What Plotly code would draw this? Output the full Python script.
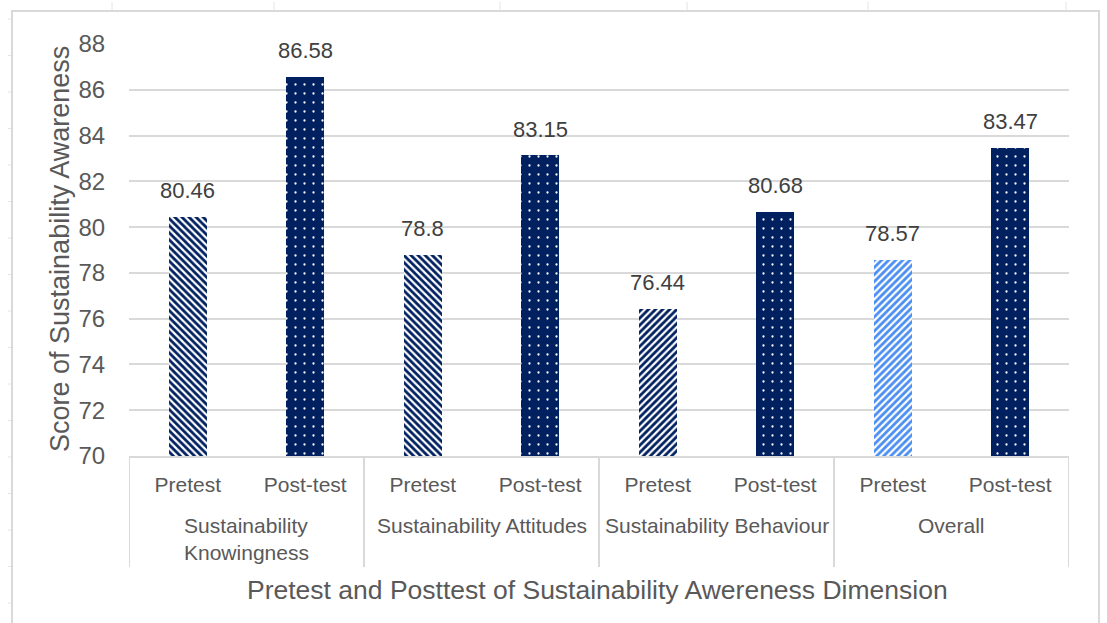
import plotly.graph_objects as go

# Sustainability awareness scores by dimension, before and after the course
groups = ["Sustainability<br>Knowingness", "Sustainability Attitudes",
          "Sustainability Behaviour", "Overall"]
phases = ["Pretest", "Post-test"]
pretest = [80.46, 78.8, 76.44, 78.57]
posttest = [86.58, 83.15, 80.68, 83.47]

NAVY = "#002060"
LIGHT_BLUE = "#4A8EF2"
GRID = "#d9d9d9"
FONT = "Liberation Sans, Arial, sans-serif"

# Interleave pretest / post-test values along a numeric axis
scores, labels = [], []
for pre, post in zip(pretest, posttest):
    scores += [pre, post]
    labels += phases
xs = list(range(len(scores)))

# Hatch style of each pretest bar; post-test bars are dotted navy
pre_shapes = ["\\", "\\", "/", "/"]
pre_colors = [NAVY, NAVY, NAVY, LIGHT_BLUE]

fig = go.Figure()
for i in range(len(groups)):
    fig.add_trace(go.Bar(
        x=[xs[2 * i]], y=[scores[2 * i]], width=0.32,
        marker=dict(color="white", line=dict(width=0),
                    pattern=dict(shape=pre_shapes[i], fgcolor=pre_colors[i],
                                 bgcolor="white", size=5, solidity=0.55,
                                 fillmode="replace")),
        showlegend=False, hoverinfo="y",
    ))
    fig.add_trace(go.Bar(
        x=[xs[2 * i + 1]], y=[scores[2 * i + 1]], width=0.32,
        marker=dict(color=NAVY, line=dict(width=0),
                    pattern=dict(shape=".", fgcolor="white", bgcolor=NAVY,
                                 size=9, solidity=0.05, fillmode="replace")),
        showlegend=False, hoverinfo="y",
    ))

# Value labels above each bar
for x, v in zip(xs, scores):
    fig.add_annotation(x=x, y=v, text=f"{v:g}", showarrow=False,
                       yanchor="middle", yshift=26,
                       font=dict(size=22, color="#404040", family=FONT))

PLOT_TOP, PLOT_BOTTOM, PLOT_LEFT, PLOT_RIGHT = 44, 456, 129, 1069
PLOT_H = PLOT_BOTTOM - PLOT_TOP
PLOT_W = PLOT_RIGHT - PLOT_LEFT


def py(px):
    return (PLOT_BOTTOM - px) / PLOT_H


def pxx(px):
    return (px - PLOT_LEFT) / PLOT_W


# Group names under the phase labels
for i, g in enumerate(groups):
    fig.add_annotation(x=2 * i + 0.5, xref="x", y=py(512), yref="paper",
                       text=g, showarrow=False, xanchor="center", yanchor="top",
                       align="left",
                       font=dict(size=21, color="#595959", family=FONT))

# Dividers between dimension groups
for b in [-0.5, 1.5, 3.5, 5.5, 7.5]:
    fig.add_shape(type="line", xref="x", yref="paper", x0=b, x1=b,
                  y0=0, y1=py(567), line=dict(color=GRID, width=2))

# Chart frame
fig.add_shape(type="path", xref="paper", yref="paper",
              path=f"M {pxx(12)},{py(640)} L {pxx(12)},{py(11)} "
                   f"L {pxx(1099)},{py(11)} L {pxx(1099)},{py(640)}",
              line=dict(color=GRID, width=2))

# Worksheet grid ticks around the frame
for cx in [112, 274, 500, 687, 868, 1066]:
    fig.add_shape(type="line", xref="paper", yref="paper",
                  x0=pxx(cx), x1=pxx(cx), y0=py(2), y1=py(10),
                  line=dict(color="#e4e4e4", width=1))
for k in range(17):
    ry = 19 + k * 36.5
    fig.add_shape(type="line", xref="paper", yref="paper",
                  x0=pxx(8), x1=pxx(11), y0=py(ry), y1=py(ry),
                  line=dict(color="#e4e4e4", width=1))

# Axis titles
fig.add_annotation(x=pxx(60), y=py(249), xref="paper", yref="paper",
                   text="Score of Sustainability Awareness", textangle=-90,
                   showarrow=False, xanchor="center", yanchor="middle",
                   font=dict(size=27, color="#595959", family=FONT))
fig.add_annotation(x=pxx(597), y=py(590), xref="paper", yref="paper",
                   text="Pretest and Posttest of Sustainability Awereness Dimension",
                   showarrow=False, xanchor="center", yanchor="middle",
                   font=dict(size=26.5, color="#595959", family=FONT))

fig.update_layout(
    width=1107, height=623,
    margin=dict(l=PLOT_LEFT, r=1107 - PLOT_RIGHT, t=PLOT_TOP, b=623 - PLOT_BOTTOM),
    paper_bgcolor="white", plot_bgcolor="white",
    font=dict(family=FONT, color="#595959"),
    barmode="overlay", bargap=0,
)
fig.update_xaxes(
    range=[-0.5, 7.5], tickvals=xs, ticktext=labels,
    ticks="outside", ticklen=9, tickcolor="rgba(0,0,0,0)",
    tickfont=dict(size=21, color="#595959"),
    showgrid=False, zeroline=False,
    showline=True, linecolor=GRID, linewidth=2,
)
fig.update_yaxes(
    range=[70, 88], dtick=2,
    ticks="outside", ticklen=18, tickcolor="rgba(0,0,0,0)",
    tickfont=dict(size=24, color="#595959"),
    showgrid=True, gridcolor=GRID, gridwidth=2,
    zeroline=False, showline=False,
)

fig.write_html("out.html")
